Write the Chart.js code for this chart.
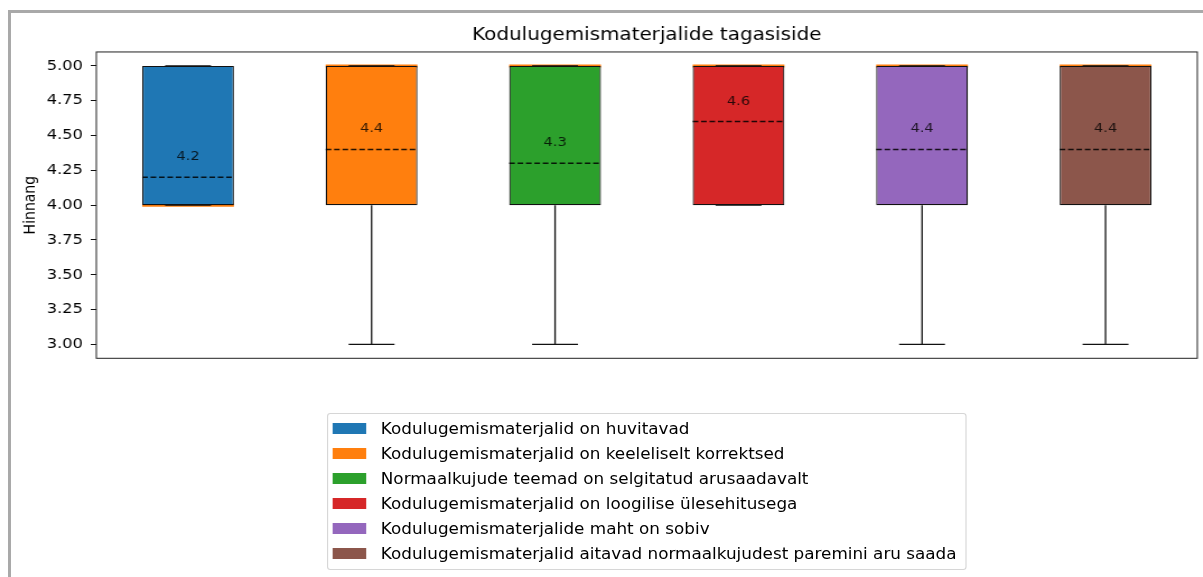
<!DOCTYPE html>
<html>
<head>
<meta charset="utf-8">
<script src="https://cdn.jsdelivr.net/npm/chart.js@4"></script>
<style>
  html, body { margin: 0; padding: 0; background: #fff; width: 1203px; height: 577px; overflow: hidden; }
  #frame { position: absolute; left: 8px; top: 10px; right: 0; bottom: 0; border-left: 3px solid #a9a9a9; border-top: 3px solid #a9a9a9; }
  #wrap { position: absolute; left: 0; top: 0; width: 1074px; height: 577px; transform: scaleX(1.12); transform-origin: 0 0; }
  #chartBox { position: absolute; left: 0; top: 0; width: 1074px; height: 374px; }
  #legend { position: absolute; left: 292px; top: 413px; width: 571px; height: 157px; box-sizing: border-box;
            border: 1px solid #d6d6d6; border-radius: 3px; padding-top: 2px; font-family: 'DejaVu Sans', sans-serif; font-size: 15px; color: #000; }
  .row { display: flex; align-items: center; height: 25px; }
  .sw { width: 30px; height: 11px; margin-left: 4px; flex: none; }
  .lbl { margin-left: 13px; white-space: nowrap; }
</style>
</head>
<body>
<div id="frame"></div>
<div id="wrap">
  <div id="chartBox"><canvas id="c"></canvas></div>
  <div id="legend"></div>
</div>
<script>
const categories = [
  'Kodulugemismaterjalid on huvitavad',
  'Kodulugemismaterjalid on keeleliselt korrektsed',
  'Normaalkujude teemad on selgitatud arusaadavalt',
  'Kodulugemismaterjalid on loogilise ülesehitusega',
  'Kodulugemismaterjalide maht on sobiv',
  'Kodulugemismaterjalid aitavad normaalkujudest paremini aru saada'
];
const q1Values = [4, 4, 4, 4, 4, 4];
const q3Values = [5, 5, 5, 5, 5, 5];
const medianValues = [4, 5, 5, 5, 5, 5];
const whiskerLow = [4, 3, 3, 4, 3, 3];
const whiskerHigh = [5, 5, 5, 5, 5, 5];
const meanValues = [4.2, 4.4, 4.3, 4.6, 4.4, 4.4];
const yTicks = [3.00, 3.25, 3.50, 3.75, 4.00, 4.25, 4.50, 4.75, 5.00];
const boxColors = ['#1f77b4', '#ff7f0e', '#2ca02c', '#d62728', '#9467bd', '#8c564b'];
const chartTitle = 'Kodulugemismaterjalide tagasiside';
const yTitle = 'Hinnang';

// HTML legend from the arrays
const legendEl = document.getElementById('legend');
categories.forEach((c, i) => {
  const row = document.createElement('div'); row.className = 'row';
  const sw = document.createElement('span'); sw.className = 'sw'; sw.style.background = boxColors[i];
  const lb = document.createElement('span'); lb.className = 'lbl'; lb.textContent = c;
  row.appendChild(sw); row.appendChild(lb); legendEl.appendChild(row);
});

const boxExtras = {
  id: 'boxExtras',
  beforeDatasetsDraw(chart) {
    const ctx = chart.ctx, y = chart.scales.y, meta = chart.getDatasetMeta(0);
    ctx.save();
    ctx.strokeStyle = '#ff7f0e';
    ctx.lineWidth = 3;
    meta.data.forEach((bar, i) => {
      const py = y.getPixelForValue(medianValues[i]);
      ctx.beginPath();
      ctx.moveTo(bar.x - bar.width / 2, py);
      ctx.lineTo(bar.x + bar.width / 2, py);
      ctx.stroke();
    });
    ctx.restore();
  },
  afterDatasetsDraw(chart) {
    const ctx = chart.ctx, y = chart.scales.y, meta = chart.getDatasetMeta(0), a = chart.chartArea;
    ctx.save();
    meta.data.forEach((bar, i) => {
      const cx = bar.x, half = bar.width / 2, capHalf = bar.width / 4;
      const yq1 = y.getPixelForValue(q1Values[i]);
      const yq3 = y.getPixelForValue(q3Values[i]);
      const ylo = y.getPixelForValue(whiskerLow[i]);
      const yhi = y.getPixelForValue(whiskerHigh[i]);
      ctx.strokeStyle = '#111';
      ctx.lineWidth = 1.3;
      ctx.setLineDash([]);
      ctx.beginPath();
      if (whiskerLow[i] < q1Values[i]) { ctx.moveTo(cx, yq1); ctx.lineTo(cx, ylo); }
      if (whiskerHigh[i] > q3Values[i]) { ctx.moveTo(cx, yq3); ctx.lineTo(cx, yhi); }
      ctx.moveTo(cx - capHalf, ylo); ctx.lineTo(cx + capHalf, ylo);
      ctx.moveTo(cx - capHalf, yhi); ctx.lineTo(cx + capHalf, yhi);
      ctx.stroke();
      // mean dashed line
      const ym = y.getPixelForValue(meanValues[i]);
      ctx.strokeStyle = 'rgba(0,0,0,0.85)';
      ctx.lineWidth = 1.5;
      ctx.setLineDash([5, 2.5]);
      ctx.beginPath();
      ctx.moveTo(cx - half, ym); ctx.lineTo(cx + half, ym);
      ctx.stroke();
      ctx.setLineDash([]);
      // mean label
      ctx.fillStyle = 'rgba(0,0,0,0.8)';
      ctx.font = "13px 'DejaVu Sans'";
      ctx.textAlign = 'center';
      ctx.textBaseline = 'bottom';
      ctx.fillText(meanValues[i].toFixed(1), cx, y.getPixelForValue(meanValues[i] + 0.1));
    });
    // axes frame
    ctx.strokeStyle = '#222';
    ctx.lineWidth = 1;
    ctx.strokeRect(a.left, a.top, a.right - a.left, a.bottom - a.top);
    ctx.restore();
  }
};

Chart.defaults.font.family = "'DejaVu Sans', sans-serif";
Chart.defaults.color = '#000';

new Chart(document.getElementById('c'), {
  type: 'bar',
  data: {
    labels: categories,
    datasets: [{
      data: categories.map((c, i) => [q1Values[i], q3Values[i]]),
      backgroundColor: boxColors,
      borderColor: '#111',
      borderWidth: 1.2,
      borderSkipped: false,
      barPercentage: 0.5,
      categoryPercentage: 1.0
    }]
  },
  options: {
    responsive: true,
    maintainAspectRatio: false,
    animation: false,
    layout: { padding: { left: 0, right: 5, top: 0, bottom: 4 } },
    plugins: {
      legend: { display: false },
      tooltip: { enabled: false },
      title: {
        display: true, text: chartTitle, fullSize: false, color: '#000',
        font: { size: 17.8, weight: 'normal' },
        padding: { top: 25, bottom: 5.6 }
      }
    },
    scales: {
      x: { display: false, offset: true },
      y: {
        min: 2.9, max: 5.1,
        afterBuildTicks: s => { s.ticks = yTicks.map(v => ({ value: v })); },
        afterFit: s => { s.width = 86; },
        ticks: { callback: v => Number(v).toFixed(2), font: { size: 14.5 }, color: '#000', padding: 7 },
        grid: { drawOnChartArea: false, drawTicks: true, tickLength: 5, tickColor: '#111' },
        border: { display: false },
        title: { display: true, text: yTitle, font: { size: 14 }, color: '#000', padding: { top: 19, bottom: 0 } }
      }
    }
  },
  plugins: [boxExtras]
});
</script>
</body>
</html>
